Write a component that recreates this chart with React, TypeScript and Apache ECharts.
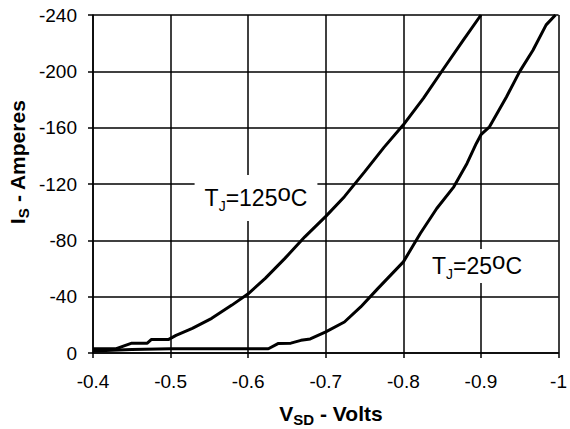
import React, { useEffect, useRef } from "react";
import * as echarts from "echarts";

const FONT = "'Liberation Sans', Arial, Helvetica, sans-serif";

// T_J = 125 °C curve
const vsd125 = [-0.4, -0.43, -0.44, -0.45, -0.47, -0.475, -0.497, -0.507, -0.528, -0.553, -0.579, -0.6, -0.622, -0.647, -0.673, -0.7, -0.724, -0.75, -0.775, -0.8, -0.826, -0.852, -0.877, -0.9];
const is125 = [-3, -3, -5, -7, -7, -9.5, -9.5, -12.5, -17.5, -24.6, -34, -42, -53, -67, -82.5, -97, -111, -128.6, -146, -162, -181, -202, -222, -240];

// T_J = 25 °C curve
const vsd25 = [-0.4, -0.45, -0.5, -0.626, -0.639, -0.655, -0.668, -0.68, -0.7, -0.724, -0.745, -0.767, -0.8, -0.822, -0.843, -0.865, -0.882, -0.894, -0.9, -0.911, -0.933, -0.95, -0.967, -0.984, -0.996];
const is25 = [-1.5, -2.5, -3, -3, -6.8, -7, -9, -10, -15, -22, -32.7, -45.7, -64.7, -85, -102.6, -118, -134.6, -148.8, -155, -160.6, -182, -200, -215, -233, -240];

const xTicks = { min: -1, max: -0.4, interval: 0.1 };
const yTicks = { min: -240, max: 0, interval: 40 };

const zip = (xs: number[], ys: number[]) => xs.map((x, i) => [x, ys[i]]);

export default function App() {
  const ref = useRef<HTMLDivElement>(null);
  useEffect(() => {
    if (!ref.current) return;
    const chart = echarts.init(ref.current, null, { renderer: "svg" });
    const black = "#000";
    const axisCommon = {
      type: "value" as const,
      inverse: true,
      axisLine: { show: true, onZero: false, lineStyle: { color: black, width: 1.5 } },
      axisTick: { show: true, length: 5, lineStyle: { color: black, width: 1.5 } },
      splitLine: { show: true, lineStyle: { color: black, width: 1.5 } },
    };
    const labelRich = {
      t: { fontSize: 23, fontFamily: FONT, color: black, lineHeight: 30, verticalAlign: "middle" },
      s: { fontSize: 14, fontFamily: FONT, color: black, lineHeight: 14, verticalAlign: "bottom" },
      o: { fontSize: 24, fontFamily: FONT, color: black, height: 18, verticalAlign: "top" },
    };
    const titleRich = {
      b: { fontSize: 21, fontFamily: FONT, fontWeight: "bold", color: black, lineHeight: 28, verticalAlign: "middle" },
      s: { fontSize: 15, fontFamily: FONT, fontWeight: "bold", color: black, lineHeight: 14, verticalAlign: "bottom" },
    };
    chart.setOption({
      animation: false,
      backgroundColor: "#fff",
      grid: { left: 93, right: 7, top: 15, bottom: 76, containLabel: false },
      xAxis: {
        ...axisCommon,
        ...xTicks,
        axisLabel: {
          color: black,
          fontSize: 19,
          fontFamily: FONT,
          margin: 19,
          formatter: (v: number) => String(Math.round(v * 10) / 10),
        },
      },
      yAxis: {
        ...axisCommon,
        ...yTicks,
        axisLabel: {
          color: black,
          fontSize: 19,
          fontFamily: FONT,
          margin: 16,
          formatter: (v: number) => String(Math.round(v)),
        },
      },
      series: [
        {
          type: "line",
          data: zip(vsd125, is125),
          showSymbol: false,
          lineStyle: { color: black, width: 3 },
          z: 5,
        },
        {
          type: "line",
          data: zip(vsd25, is25),
          showSymbol: false,
          lineStyle: { color: black, width: 3 },
          z: 5,
        },
      ],
      graphic: [
        {
          type: "text",
          x: 256,
          y: 198,
          z: 10,
          style: {
            text: "{t|T}{s|J}{t|=125}{o|o}{t|C}",
            rich: labelRich,
            align: "center",
            verticalAlign: "middle",
            backgroundColor: "#fff",
            padding: [8, 10],
          },
        },
        {
          type: "text",
          x: 477,
          y: 266,
          z: 10,
          style: {
            text: "{t|T}{s|J}{t|=25}{o|o}{t|C}",
            rich: labelRich,
            align: "center",
            verticalAlign: "middle",
            backgroundColor: "#fff",
            padding: [2, 8],
          },
        },
        {
          type: "text",
          x: 331,
          y: 413,
          style: {
            text: "{b|V}{s|SD}{b| - Volts}",
            rich: titleRich,
            align: "center",
            verticalAlign: "middle",
          },
        },
        {
          type: "text",
          x: 17,
          y: 162,
          rotation: Math.PI / 2,
          style: {
            text: "{b|I}{s|S}{b| - Amperes}",
            rich: titleRich,
            align: "center",
            verticalAlign: "middle",
          },
        },
      ],
    });
    return () => chart.dispose();
  }, []);
  return <div ref={ref} style={{ width: 570, height: 429, position: "absolute", left: 0, top: 0 }} />;
}
